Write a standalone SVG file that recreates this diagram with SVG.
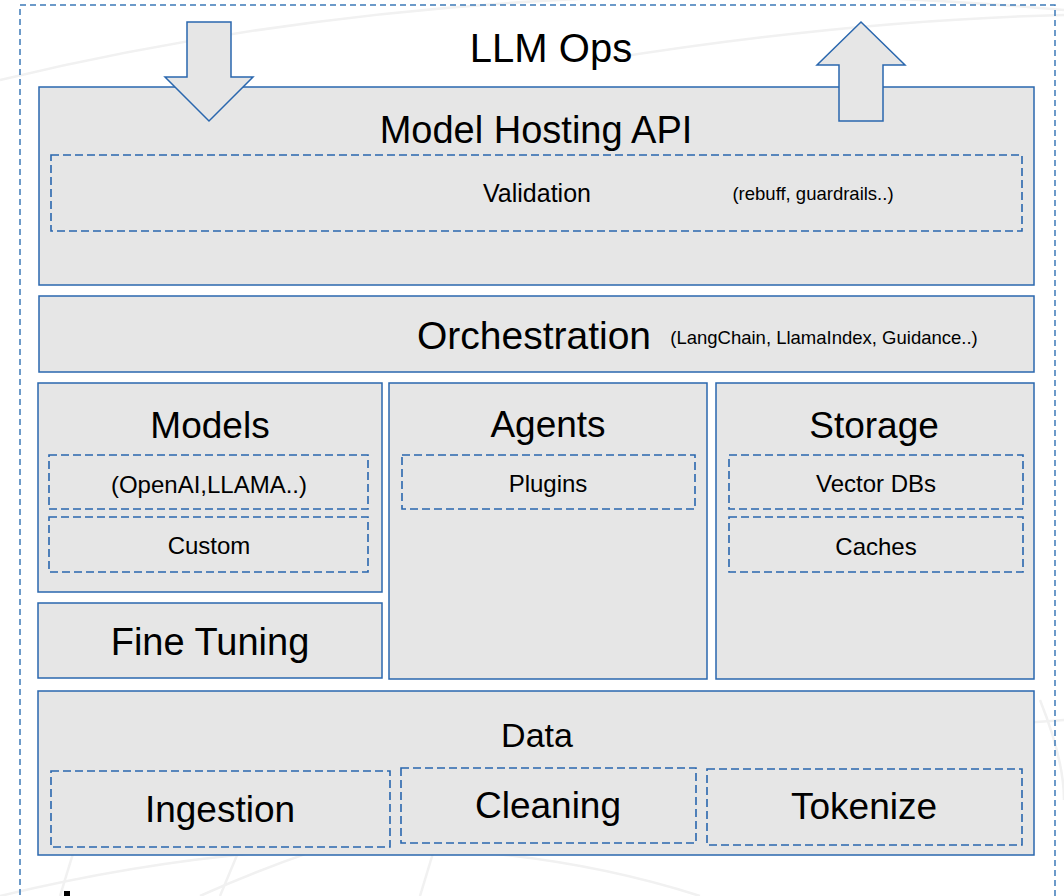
<svg xmlns="http://www.w3.org/2000/svg" width="1064" height="896" viewBox="0 0 1064 896">
<style>
.box{fill:#E6E6E6;stroke:#2A67AE;stroke-width:1.5}
.dash{fill:none;stroke:#2A67AE;stroke-width:1.6;stroke-dasharray:8 4}
.frame{fill:none;stroke:#3D7AB8;stroke-width:1.5;stroke-dasharray:6 4}
.bg{fill:none;stroke:#F1F1F1;stroke-width:2.5}
text{font-family:"Liberation Sans",Arial,sans-serif;fill:#000;text-anchor:middle}
.t37{font-size:37px}
.t24{font-size:24px}
.arrow{fill:#E6E6E6;stroke:#2A67AE;stroke-width:1.5;stroke-linejoin:miter}
</style>
<rect width="1064" height="896" fill="#FFFFFF"/>
<g id="background">
<path class="bg" d="M0 80 Q500 -40 1064 10"/>
<path class="bg" d="M600 60 Q850 20 1064 15"/>
<path class="bg" d="M200 896 Q500 760 1064 720"/>
<path class="bg" d="M0 896 Q400 800 700 896"/>
<path class="bg" d="M60 896 L120 700"/>
<path class="bg" d="M220 896 L260 800"/>
<path class="bg" d="M420 896 L440 830"/>
<path class="bg" d="M1040 700 Q1064 760 1064 800"/>
</g>
<rect id="frame" class="frame" x="20" y="5" width="1035" height="900"/>
<g id="title"><text x="551" y="62" style="font-size:40px">LLM Ops</text></g>
<g id="model-hosting">
<rect class="box" x="39" y="87" width="995" height="198"/>
<text x="536" y="143" style="font-size:38px">Model Hosting API</text>
</g>
<g id="validation">
<rect class="dash" x="51" y="155" width="971" height="76"/>
<text x="537" y="202" style="font-size:25px">Validation</text>
<text x="813" y="200" style="font-size:18.5px">(rebuff, guardrails..)</text>
</g>
<g id="orchestration">
<rect class="box" x="39" y="296" width="995" height="76"/>
<text x="534" y="349" style="font-size:39px">Orchestration</text>
<text x="824" y="344" style="font-size:18.5px">(LangChain, LlamaIndex, Guidance..)</text>
</g>
<g id="models">
<rect class="box" x="38" y="383" width="344" height="209"/>
<text class="t37" x="210" y="438">Models</text>
</g>
<g id="openai">
<rect class="dash" x="49" y="455" width="319" height="54"/>
<text class="t24" x="209" y="493">(OpenAI,LLAMA..)</text>
</g>
<g id="custom">
<rect class="dash" x="49" y="517" width="319" height="55"/>
<text class="t24" x="209" y="554">Custom</text>
</g>
<g id="fine-tuning">
<rect class="box" x="38" y="603" width="344" height="75"/>
<text x="210" y="655" style="font-size:38px">Fine Tuning</text>
</g>
<g id="agents">
<rect class="box" x="389" y="383" width="318" height="296"/>
<text class="t37" x="548" y="437">Agents</text>
</g>
<g id="plugins">
<rect class="dash" x="402" y="455" width="293" height="54"/>
<text class="t24" x="548" y="492">Plugins</text>
</g>
<g id="storage">
<rect class="box" x="716" y="383" width="318" height="296"/>
<text class="t37" x="874" y="438">Storage</text>
</g>
<g id="vector-dbs">
<rect class="dash" x="729" y="455" width="294" height="54"/>
<text class="t24" x="876" y="492">Vector DBs</text>
</g>
<g id="caches">
<rect class="dash" x="729" y="517" width="294" height="55"/>
<text class="t24" x="876" y="555">Caches</text>
</g>
<g id="data">
<rect class="box" x="38" y="691" width="996" height="164"/>
<text x="537" y="747" style="font-size:34px">Data</text>
</g>
<g id="ingestion">
<rect class="dash" x="51" y="771" width="339" height="76"/>
<text x="220" y="822" style="font-size:37px">Ingestion</text>
</g>
<g id="cleaning">
<rect class="dash" x="401" y="768" width="295" height="75"/>
<text x="548" y="818" style="font-size:37px">Cleaning</text>
</g>
<g id="tokenize">
<rect class="dash" x="707" y="769" width="315" height="76"/>
<text x="864" y="819" style="font-size:37px">Tokenize</text>
</g>
<g id="connectors">
<polygon id="arrow-in" class="arrow" points="187,22 231,22 231,77 253,77 209,121 165,77 187,77"/>
<polygon id="arrow-out" class="arrow" points="861,22 905,65 883,65 883,121 839,121 839,65 817,65"/>
</g>
<rect id="mark" x="64" y="891" width="6" height="5" fill="#000"/>
</svg>
